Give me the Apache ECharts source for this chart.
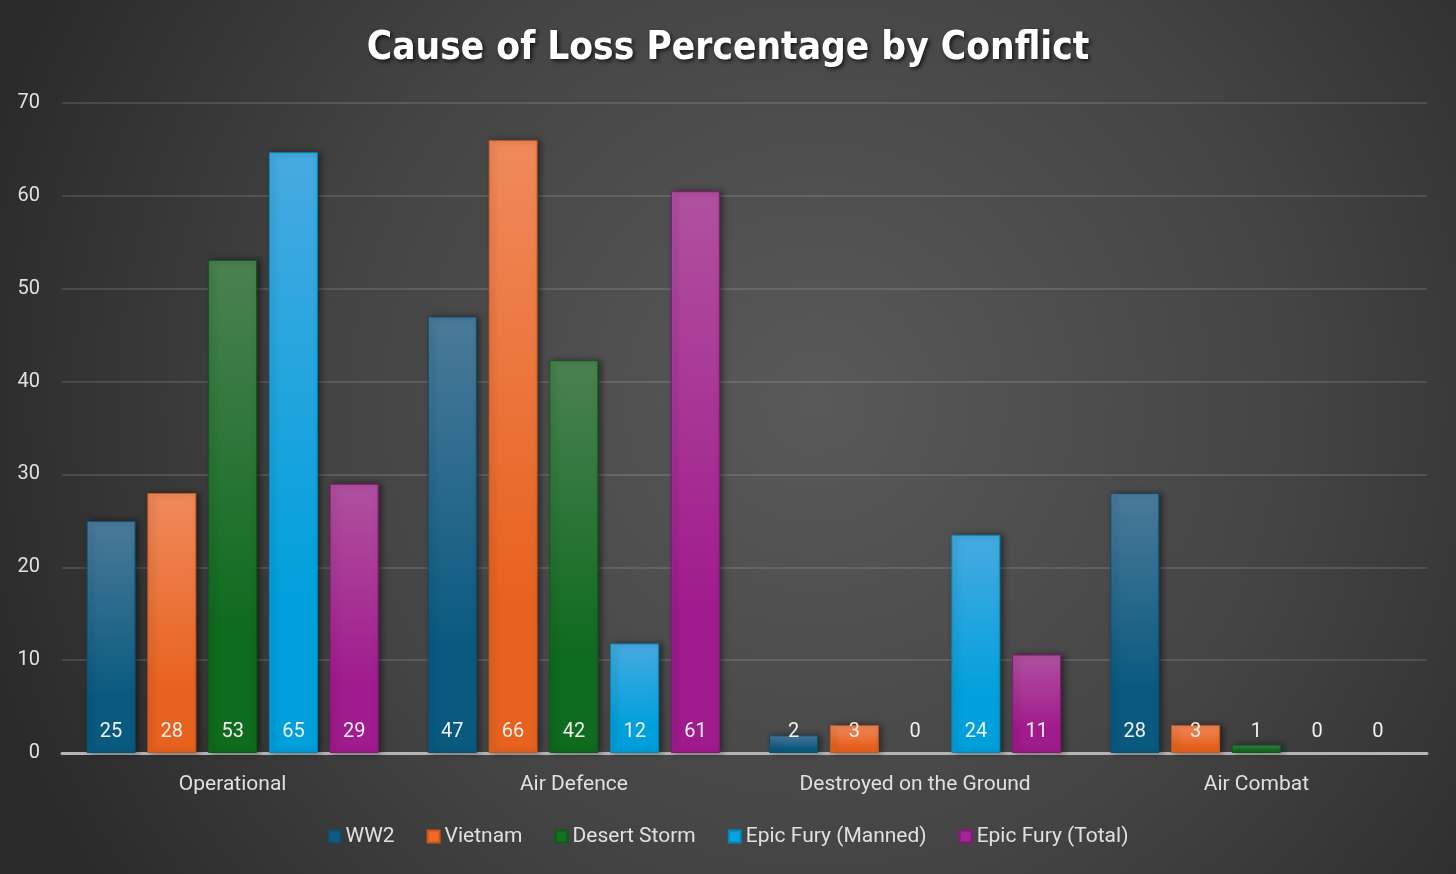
<!DOCTYPE html>
<html>
<head>
<meta charset="utf-8">
<script src="https://cdn.jsdelivr.net/npm/echarts@6/dist/echarts.min.js"></script>
<style>html,body{margin:0;padding:0;background:#2c2c2c;}#c{width:1456px;height:874px;}</style>
</head>
<body>
<div id="c"></div>
<script>
const categories = ['Operational', 'Air Defence', 'Destroyed on the Ground', 'Air Combat'];
const seriesNames = ['WW2', 'Vietnam', 'Desert Storm', 'Epic Fury (Manned)', 'Epic Fury (Total)'];
const ww2 = [25, 47, 1.9, 28];
const vietnam = [28, 66, 3, 3];
const desertStorm = [53.1, 42.3, 0, 0.9];
const epicManned = [64.7, 11.8, 23.5, 0];
const epicTotal = [29, 60.5, 10.6, 0];
const yTicks = { min: 0, max: 70, interval: 10 };

const seriesData = [ww2, vietnam, desertStorm, epicManned, epicTotal];
const gradients = [
  ['#4b7a99', '#0a5a80', '#0c4f70'],
  ['#f08a5c', '#e8621f', '#c9561b'],
  ['#4b8152', '#0f6b1e', '#0d5a1a'],
  ['#47aae0', '#00a0dc', '#0088bb'],
  ['#b0519f', '#a01b8d', '#861778']
];
const legendColors = ['#0e5c82', '#ee6a26', '#127222', '#0aa3df', '#a4249a'];

const chart = echarts.init(document.getElementById('c'));
const font = 'Roboto, "Noto Sans", sans-serif';

chart.setOption({
  backgroundColor: {
    type: 'radial', x: 0.56, y: 0.46, r: 1.0,
    colorStops: [
      { offset: 0, color: '#595959' },
      { offset: 0.55, color: '#444444' },
      { offset: 1, color: '#2a2a2a' }
    ]
  },
  animation: false,
  title: {
    text: 'Cause of Loss Percentage by Conflict',
    left: 'center',
    top: 24,
    textStyle: {
      color: '#ffffff',
      fontSize: 38.5,
      fontWeight: 'bold',
      fontFamily: '"DejaVu Sans Condensed", "DejaVu Sans", sans-serif',
      textShadowColor: 'rgba(0,0,0,0.7)',
      textShadowBlur: 4,
      textShadowOffsetX: 2,
      textShadowOffsetY: 2
    }
  },
  grid: { left: 62, right: 29, top: 103, bottom: 121, containLabel: false },
  legend: {
    bottom: 22,
    left: 'center',
    icon: 'rect',
    itemWidth: 12,
    itemHeight: 12,
    itemGap: 32,
    textStyle: { color: '#e0e0e0', fontSize: 21, fontFamily: font },
    data: seriesNames.map((n, i) => ({ name: n, itemStyle: { color: legendColors[i] } }))
  },
  xAxis: {
    type: 'category',
    data: categories,
    axisLine: { lineStyle: { color: '#b5b5b5', width: 3 } },
    axisTick: { show: false },
    axisLabel: { color: '#e0e0e0', fontSize: 21, fontFamily: font, margin: 21 }
  },
  yAxis: {
    type: 'value',
    min: yTicks.min, max: yTicks.max, interval: yTicks.interval,
    axisLine: { show: false },
    axisTick: { show: false },
    axisLabel: { color: '#e0e0e0', fontSize: 20, fontFamily: font, margin: 22 },
    splitLine: { lineStyle: { color: 'rgba(255,255,255,0.12)', width: 2 } }
  },
  series: seriesNames.map((name, i) => ({
    name,
    type: 'bar',
    data: seriesData[i].map(v => (v === 0 ? { value: v, itemStyle: { borderWidth: 0, shadowBlur: 0, shadowOffsetX: 0 } } : v)),
    barWidth: 49,
    barGap: '24%',
    itemStyle: {
      color: {
        type: 'linear', x: 0, y: 0, x2: 0, y2: 1,
        colorStops: [
          { offset: 0, color: gradients[i][0] },
          { offset: 0.75, color: gradients[i][1] },
          { offset: 1, color: gradients[i][1] }
        ]
      },
      borderColor: gradients[i][2],
      borderWidth: 1,
      shadowColor: 'rgba(0,0,0,0.45)',
      shadowBlur: 6,
      shadowOffsetX: 3,
      shadowOffsetY: 0
    },
    label: {
      show: true,
      position: 'insideBottom',
      distance: 11,
      color: '#f0f0f0',
      fontSize: 20,
      fontFamily: font,
      formatter: p => Math.round(p.value)
    }
  }))
});
</script>
</body>
</html>
